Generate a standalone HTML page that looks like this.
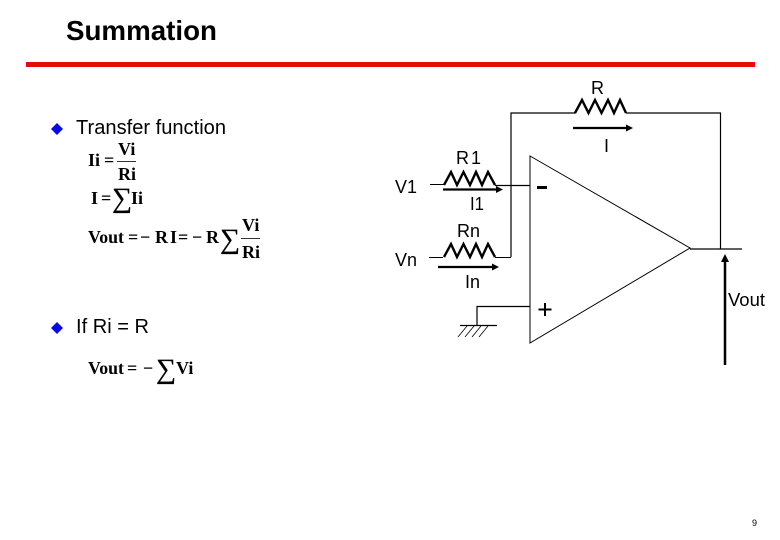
<!DOCTYPE html>
<html>
<head>
<meta charset="utf-8">
<style>
html,body{margin:0;padding:0;background:#fff}
svg{display:block}
text{font-family:"Liberation Sans",sans-serif;fill:#000}
.s{font-size:20px}
.l{font-size:18px}
.m{font-family:"Liberation Serif",serif;font-weight:bold;font-size:18px}
.sig{font-family:"Liberation Serif",serif;font-size:28px;stroke:#000;stroke-width:.3}
</style>
</head>
<body>
<svg width="780" height="540" viewBox="0 0 780 540" xmlns="http://www.w3.org/2000/svg">
<rect width="780" height="540" fill="#fff"/>
<text x="66" y="40" font-weight="bold" style="font-size:28px" textLength="151" lengthAdjust="spacingAndGlyphs">Summation</text>
<rect x="26" y="62" width="729" height="5" fill="#e60b0b"/>

<path d="M51 129L57 123L63 129L57 135Z" fill="#0a0ae6"/>
<text x="76" y="134" class="s" textLength="150" lengthAdjust="spacingAndGlyphs">Transfer function</text>
<path d="M51 328L57 322L63 328L57 334Z" fill="#0a0ae6"/>
<text x="76" y="333" class="s" textLength="73" lengthAdjust="spacingAndGlyphs">If Ri = R</text>

<!-- formulas -->
<text x="88" y="166" class="m">Ii</text>
<text x="104" y="166" class="m">=</text>
<text x="118" y="155" class="m">Vi</text>
<rect x="117" y="161" width="19" height="1" fill="#333"/>
<text x="118" y="180" class="m">Ri</text>
<text x="91" y="204" class="m">I</text>
<text x="101" y="204" class="m">=</text>
<text x="112" y="207" class="sig">∑</text>
<text x="131" y="204" class="m">Ii</text>
<text x="88" y="243" class="m" textLength="36" lengthAdjust="spacingAndGlyphs">Vout</text>
<text x="128" y="243" class="m">=</text>
<text x="140" y="243" class="m">−</text>
<text x="155" y="243" class="m">R</text>
<text x="170" y="243" class="m">I</text>
<text x="178" y="243" class="m">=</text>
<text x="192" y="243" class="m">−</text>
<text x="206" y="243" class="m">R</text>
<text x="220" y="248" class="sig">∑</text>
<text x="242" y="231" class="m">Vi</text>
<rect x="241" y="238" width="19" height="1" fill="#333"/>
<text x="242" y="258" class="m">Ri</text>
<text x="88" y="374" class="m" textLength="36" lengthAdjust="spacingAndGlyphs">Vout</text>
<text x="127" y="374" class="m">=</text>
<text x="143" y="374" class="m">−</text>
<text x="156" y="378" class="sig">∑</text>
<text x="176" y="374" class="m">Vi</text>

<!-- op amp -->
<path d="M530 156L690 248L530 343Z" fill="none" stroke="#000" stroke-width="1"/>
<rect x="537" y="186" width="10" height="3" fill="#000"/>
<path d="M545 303V316M538.500 309.500H551.500" stroke="#000" stroke-width="2" fill="none"/>

<g fill="none" stroke="#000">
<path d="M511 257V113H575.500" stroke-width="1.200"/>
<path d="M575 113L582 100L588.500 113L595 100L601.500 113L608 100L614 113L620 100L626 113" stroke-width="2.400"/>
<path d="M626 113H720.500V249" stroke-width="1.200"/>
<path d="M690 249H742" stroke-width="1.200"/>
<path d="M430 184.500H444" stroke-width="1"/>
<path d="M444 185L451 172L457 185L463.500 172L470 185L476 172L482 185L488 172L495 185" stroke-width="2.400"/>
<path d="M495 185.500H530" stroke-width="1.200"/>
<path d="M429 257.500H443" stroke-width="1"/>
<path d="M444 257L451 244L457 257L463.500 244L470 257L476 244L482 257L488 244L495 257" stroke-width="2.400"/>
<path d="M495 257.500H511" stroke-width="1"/>
<path d="M477 325V306.500H530" stroke-width="1.200"/>
<path d="M460 325.500H497" stroke-width="1.200"/>
<path d="M467 326L458 337M474 326L465 337M481 326L472 337M488 326L479 337" stroke-width="0.800"/>
</g>

<!-- current arrows -->
<g stroke="#000" stroke-width="2.200" fill="#000">
<path d="M573 128H627"/><path d="M626 124.500L633 128L626 131.500Z" stroke="none"/>
<path d="M443 189.500H497"/><path d="M496 186L503 189.500L496 193Z" stroke="none"/>
<path d="M438 267H493"/><path d="M492 263.500L499 267L492 270.500Z" stroke="none"/>
<path d="M725 365V259" stroke-width="2.500"/><path d="M721 262L725 254L729 262Z" stroke="none"/>
</g>

<text x="591" y="94" class="l">R</text>
<text x="604" y="152" class="l">I</text>
<text x="456" y="164" class="l" textLength="25" lengthAdjust="spacing">R1</text>
<text x="395" y="193" class="l" textLength="22" lengthAdjust="spacingAndGlyphs">V1</text>
<text x="470" y="210" class="l" textLength="14" lengthAdjust="spacingAndGlyphs">I1</text>
<text x="457" y="237" class="l" textLength="23" lengthAdjust="spacingAndGlyphs">Rn</text>
<text x="395" y="266" class="l" textLength="22" lengthAdjust="spacingAndGlyphs">Vn</text>
<text x="465" y="288" class="l" textLength="15" lengthAdjust="spacingAndGlyphs">In</text>
<text x="728" y="306" class="l" textLength="37" lengthAdjust="spacingAndGlyphs">Vout</text>
<text x="752" y="526" style="font-size:9px">9</text>
</svg>
</body>
</html>
